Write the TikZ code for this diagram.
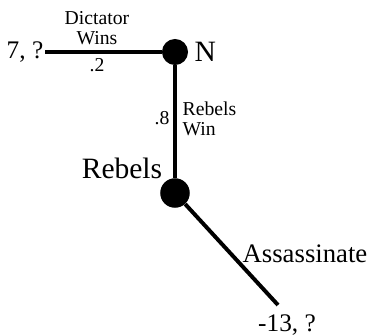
\documentclass[tikz,border=0pt]{standalone}
\usepackage{fontspec}
\setmainfont{Liberation Serif}
\usetikzlibrary{positioning}
\tikzset{
  choice/.style={circle, fill=black, minimum size=24pt, inner sep=0pt},
  branch/.style={line width=2.8pt},
  payoff/.style={font=\fontsize{18}{20}\selectfont, inner sep=1pt},
  prob/.style={font=\fontsize{14}{15}\selectfont, align=center, inner sep=1pt}
}
\begin{document}
\begin{tikzpicture}[x=0.025cm, y=-0.025cm]
  \useasboundingbox (0,0) rectangle (369,335);

  % nature moves first
  \node[choice, minimum size=18.5pt] (n) at (175,52) {};
  \node[font=\fontsize{21}{22}\selectfont, right=1pt of n] (nlbl) {N};

  % dictator wins
  \node[payoff] (dict) at (25,52) {7, ?};
  \draw[branch] (n) -- (dict.east);
  \node[prob] (dwins) at (97,28) {Dictator\\[-1pt]Wins};
  \node[prob] (dprob) at (97,65) {.2};

  % rebels win
  \node[choice, minimum size=21pt] (rebels) at (175,193) {};
  \draw[branch] (n) -- (rebels);
  \node[prob] (rprob) at (162,118) {.8};
  \node[prob, align=left, anchor=west] (rwin) at (181,119) {Rebels\\[-1pt]Win};
  \node[font=\fontsize{21}{22}\selectfont] (rlbl) at (122,168) {Rebels};

  % rebels assassinate
  \node[payoff] (assn) at (287,325) {-13, ?};
  \coordinate (aend) at (278,305);
  \draw[branch] (rebels) -- (aend);
  \node[font=\fontsize{19}{20}\selectfont] (albl) at (305,254) {Assassinate};
\end{tikzpicture}
\end{document}
